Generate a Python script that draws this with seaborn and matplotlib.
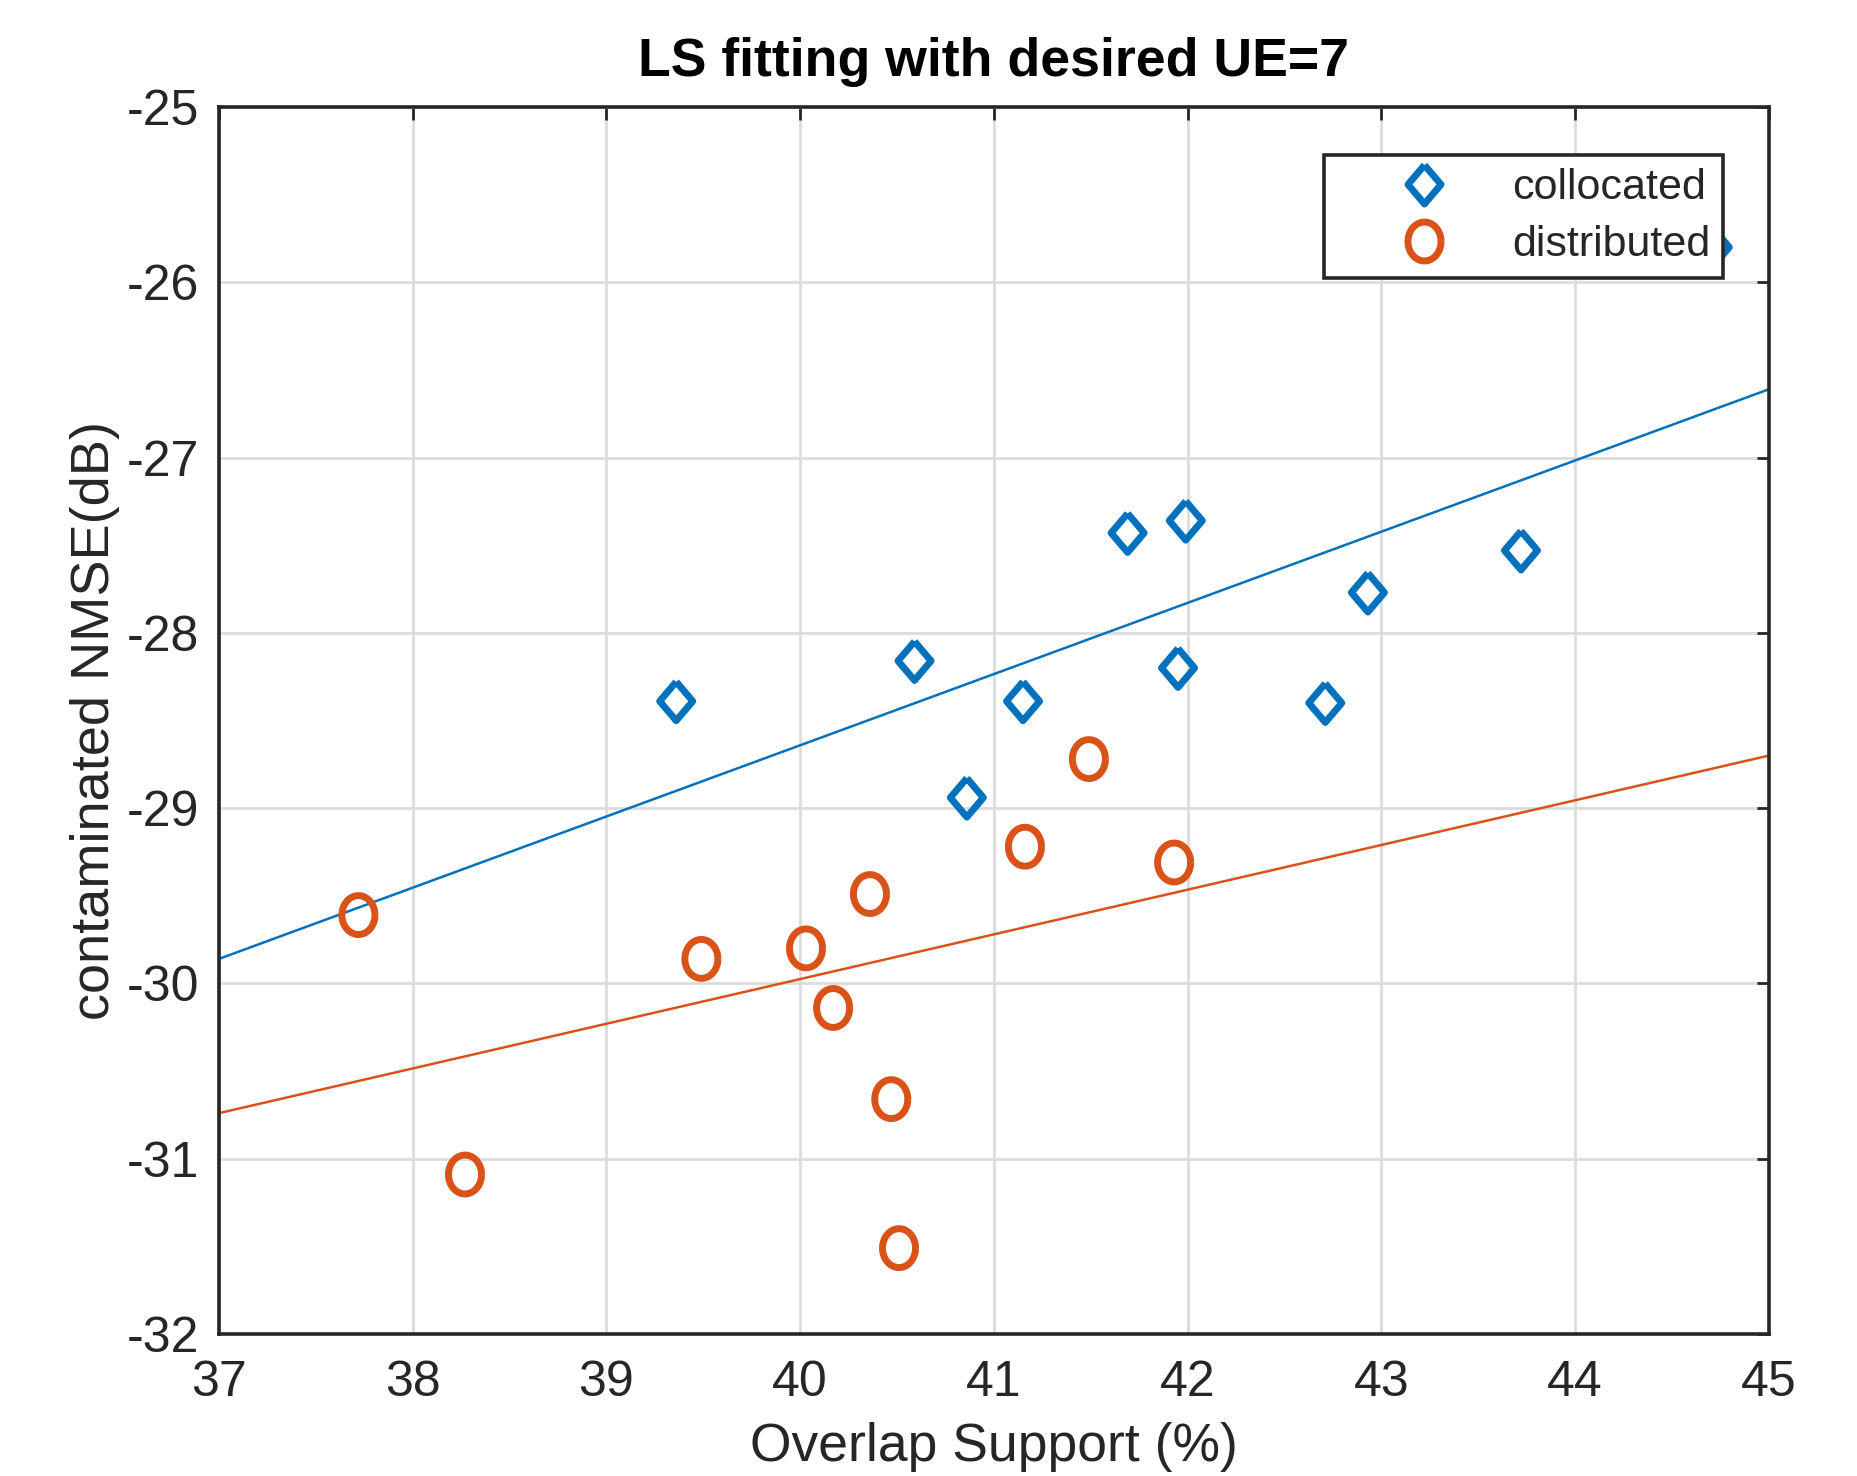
import numpy as np
import pandas as pd
import matplotlib
matplotlib.use("Agg")
import matplotlib.pyplot as plt
import seaborn as sns
from matplotlib.lines import Line2D

# ---- data ----
coll_x = [39.36, 40.59, 40.86, 41.15, 41.69, 41.99, 41.95, 42.71, 42.93, 43.72, 44.71]
coll_y = [-28.39, -28.16, -28.94, -28.39, -27.43, -27.36, -28.20, -28.40, -27.77, -27.53, -25.80]
dist_x = [37.72, 38.27, 39.49, 40.03, 40.17, 40.36, 40.47, 40.51, 41.16, 41.49, 41.93]
dist_y = [-29.61, -31.09, -29.86, -29.80, -30.14, -29.49, -30.66, -31.51, -29.22, -28.72, -29.31]
fit_x = [37.0, 45.0]
coll_fit = [-29.86, -26.61]
dist_fit = [-30.74, -28.70]
x_ticks = [37, 38, 39, 40, 41, 42, 43, 44, 45]
y_ticks = [-32, -31, -30, -29, -28, -27, -26, -25]

BLUE = "#0072BD"
ORANGE = "#D95319"

sns.set_theme(style="white")
FONT = ["Liberation Sans", "DejaVu Sans"]
plt.rcParams["font.family"] = FONT

df_c = pd.DataFrame({"x": coll_x, "y": coll_y})
df_d = pd.DataFrame({"x": dist_x, "y": dist_y})
df_fc = pd.DataFrame({"x": fit_x, "y": coll_fit})
df_fd = pd.DataFrame({"x": fit_x, "y": dist_fit})

# marker shapes (slightly tall, as in the reference)
diamond = [(0, 1), (0.85, 0), (0, -1), (-0.85, 0), (0, 1)]
t = np.linspace(0, 2 * np.pi, 60)
ellipse = list(zip(0.85 * np.cos(t), np.sin(t)))

fig = plt.figure(figsize=(18.57, 14.76), dpi=100)
ax = fig.add_axes([0.1179, 0.0962, 0.8347, 0.8313])

ax.grid(True, color="#dcdcdc", linewidth=2.0, zorder=0)
ax.set_axisbelow(True)

sns.lineplot(data=df_fc, x="x", y="y", ax=ax, color=BLUE, linewidth=1.8, zorder=2)
sns.lineplot(data=df_fd, x="x", y="y", ax=ax, color=ORANGE, linewidth=1.8, zorder=2)

ms = 28
mew = 5
sns.scatterplot(data=df_c, x="x", y="y", ax=ax, marker=diamond, s=ms ** 2,
                facecolors="none", edgecolors=BLUE, linewidths=mew, zorder=3)
sns.scatterplot(data=df_d, x="x", y="y", ax=ax, marker=ellipse, s=ms ** 2,
                facecolors="none", edgecolors=ORANGE, linewidths=mew, zorder=3)

ax.set_xlim(37, 45)
ax.set_ylim(-32, -25)
ax.set_xticks(x_ticks)
ax.set_yticks(y_ticks)
ax.set_xticklabels([str(v) for v in x_ticks])
ax.set_yticklabels([str(v) for v in y_ticks])

ax.tick_params(axis="both", direction="in", top=True, right=True, length=9,
               width=2, color="#262626", labelsize=36, labelcolor="#262626")
ax.tick_params(axis="x", pad=19)
ax.tick_params(axis="y", pad=14)

for sp in ax.spines.values():
    sp.set_visible(True)
    sp.set_color("#262626")
    sp.set_linewidth(2.6)

ax.set_xlabel("Overlap Support (%)", fontsize=38.5, color="#262626", labelpad=11)
ax.set_ylabel("contaminated NMSE(dB)", fontsize=39, color="#262626", labelpad=5)
ax.set_title("LS fitting with desired UE=7", fontsize=38.6, fontweight="bold",
             color="black", pad=22)

handles = [
    Line2D([], [], linestyle="none", marker=diamond, markersize=ms,
           markerfacecolor="none", markeredgecolor=BLUE, markeredgewidth=mew),
    Line2D([], [], linestyle="none", marker=ellipse, markersize=ms,
           markerfacecolor="none", markeredgecolor=ORANGE, markeredgewidth=mew),
]
leg = ax.legend(handles, ["collocated", "distributed"], loc="upper right",
                bbox_to_anchor=(0.9703, 0.9609), fontsize=31, frameon=True,
                fancybox=False, edgecolor="#262626", framealpha=1,
                handlelength=4.0, handletextpad=0.05, borderpad=0.3,
                labelspacing=0.4, borderaxespad=0)
leg.get_frame().set_linewidth(2.6)
leg.set_zorder(10)

fig.savefig("out.png", dpi=100)
